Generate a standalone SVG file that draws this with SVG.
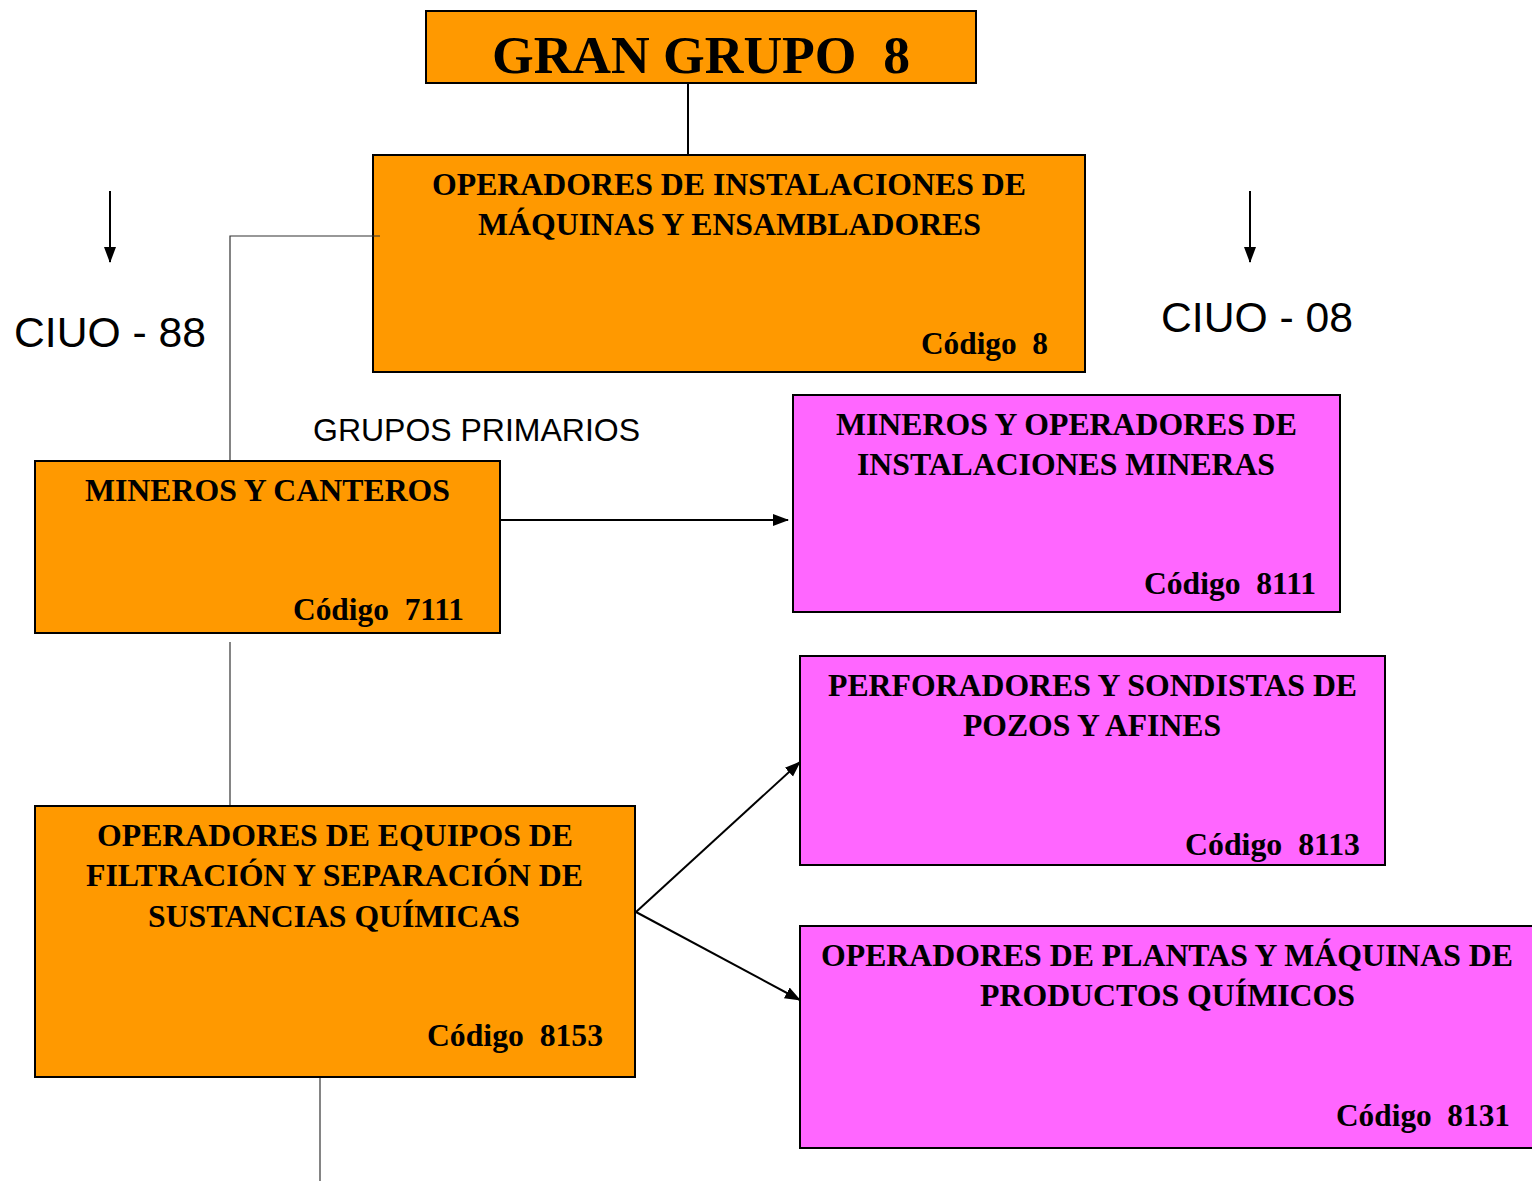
<svg xmlns="http://www.w3.org/2000/svg" width="1532" height="1181" viewBox="0 0 1532 1181">
<style>
.org{fill:#FF9900;stroke:#000;stroke-width:2}
.pnk{fill:#FF66FF;stroke:#000;stroke-width:2}
.t{font-family:"Liberation Serif","Times New Roman",serif;font-weight:bold;font-size:31px;fill:#000;white-space:pre}
.big{font-size:52px}
.s{font-family:"Liberation Sans",Arial,sans-serif;fill:#000}
.ln{stroke:#000;stroke-width:2;fill:none}
.thin{stroke:#333;stroke-width:1.2;fill:none}
</style>
<defs>
<marker id="ah2" markerWidth="16" markerHeight="16" refX="15" refY="8" orient="auto" markerUnits="userSpaceOnUse" viewBox="0 0 16 16">
<path d="M0,2 L16,8 L0,14 z" fill="#000"/>
</marker>
</defs>
<rect width="1532" height="1181" fill="#fff"/>
<g id="connectors">
<line class="ln" x1="688" y1="83" x2="688" y2="155"/>
<line class="thin" x1="230" y1="642" x2="230" y2="805"/>
<line class="thin" x1="320" y1="1077" x2="320" y2="1181"/>
<line class="ln" x1="500" y1="520" x2="788" y2="520" marker-end="url(#ah2)"/>
<line class="ln" x1="636" y1="912" x2="800" y2="762" marker-end="url(#ah2)"/>
<line class="ln" x1="636" y1="912" x2="800" y2="1000" marker-end="url(#ah2)"/>
<line class="ln" x1="110" y1="191" x2="110" y2="262" marker-end="url(#ah2)"/>
<line class="ln" x1="1250" y1="191" x2="1250" y2="262" marker-end="url(#ah2)"/>
</g>
<g id="labels">
<text class="s" x="14" y="347" font-size="42" textLength="192" lengthAdjust="spacingAndGlyphs">CIUO - 88</text>
<text class="s" x="1161" y="332" font-size="42" textLength="192" lengthAdjust="spacingAndGlyphs">CIUO - 08</text>
<text class="s" x="313" y="441" font-size="31" textLength="327" lengthAdjust="spacingAndGlyphs">GRUPOS PRIMARIOS</text>
</g>
<g id="n-gran">
<rect class="org" x="426" y="11" width="550" height="72"/>
<text class="t big" x="492" y="73" textLength="418" lengthAdjust="spacingAndGlyphs">GRAN GRUPO  8</text>
</g>
<g id="n-8">
<rect class="org" x="373" y="155" width="712" height="217"/>
<text class="t" x="432" y="195" textLength="594" lengthAdjust="spacingAndGlyphs">OPERADORES DE INSTALACIONES DE</text>
<text class="t" x="478" y="235" textLength="503" lengthAdjust="spacingAndGlyphs">MÁQUINAS Y ENSAMBLADORES</text>
<text class="t" x="921" y="354" textLength="127" lengthAdjust="spacingAndGlyphs">Código  8</text>
</g>
<g id="connector-left">
<polyline class="thin" points="380,236 230,236 230,461"/>
</g>
<g id="n-7111">
<rect class="org" x="35" y="461" width="465" height="172"/>
<text class="t" x="85" y="501" textLength="365" lengthAdjust="spacingAndGlyphs">MINEROS Y CANTEROS</text>
<text class="t" x="293" y="620" textLength="171" lengthAdjust="spacingAndGlyphs">Código  7111</text>
</g>
<g id="n-8153">
<rect class="org" x="35" y="806" width="600" height="271"/>
<text class="t" x="97" y="846" textLength="476" lengthAdjust="spacingAndGlyphs">OPERADORES DE EQUIPOS DE</text>
<text class="t" x="86" y="886" textLength="497" lengthAdjust="spacingAndGlyphs">FILTRACIÓN Y SEPARACIÓN DE</text>
<text class="t" x="148" y="927" textLength="372" lengthAdjust="spacingAndGlyphs">SUSTANCIAS QUÍMICAS</text>
<text class="t" x="427" y="1046" textLength="176" lengthAdjust="spacingAndGlyphs">Código  8153</text>
</g>
<g id="n-8111">
<rect class="pnk" x="793" y="395" width="547" height="217"/>
<text class="t" x="836" y="435" textLength="461" lengthAdjust="spacingAndGlyphs">MINEROS Y OPERADORES DE</text>
<text class="t" x="857" y="475" textLength="418" lengthAdjust="spacingAndGlyphs">INSTALACIONES MINERAS</text>
<text class="t" x="1144" y="594" textLength="172" lengthAdjust="spacingAndGlyphs">Código  8111</text>
</g>
<g id="n-8113">
<rect class="pnk" x="800" y="656" width="585" height="209"/>
<text class="t" x="828" y="696" textLength="529" lengthAdjust="spacingAndGlyphs">PERFORADORES Y SONDISTAS DE</text>
<text class="t" x="963" y="736" textLength="258" lengthAdjust="spacingAndGlyphs">POZOS Y AFINES</text>
<text class="t" x="1185" y="855" textLength="175" lengthAdjust="spacingAndGlyphs">Código  8113</text>
</g>
<g id="n-8131">
<rect class="pnk" x="800" y="926" width="740" height="222"/>
<text class="t" x="821" y="966" textLength="692" lengthAdjust="spacingAndGlyphs">OPERADORES DE PLANTAS Y MÁQUINAS DE</text>
<text class="t" x="980" y="1006" textLength="375" lengthAdjust="spacingAndGlyphs">PRODUCTOS QUÍMICOS</text>
<text class="t" x="1336" y="1126" textLength="174" lengthAdjust="spacingAndGlyphs">Código  8131</text>
</g>
</svg>
